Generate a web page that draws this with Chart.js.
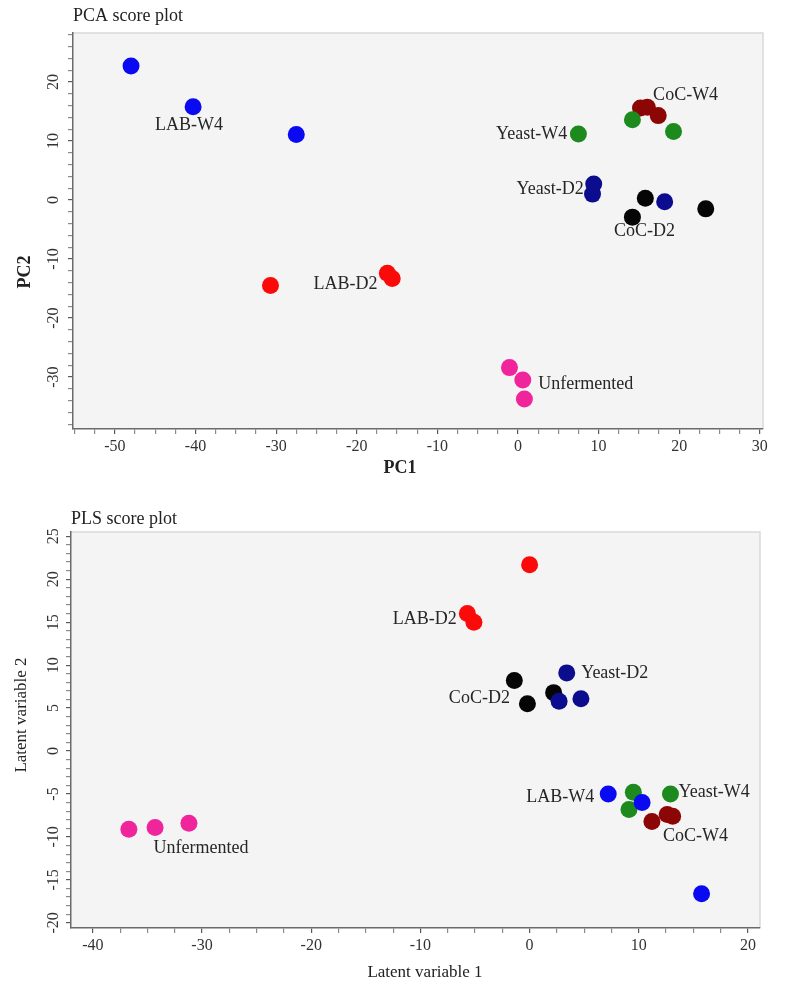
<!DOCTYPE html>
<html><head><meta charset="utf-8">
<script src="https://cdn.jsdelivr.net/npm/chart.js@4.4.1/dist/chart.umd.min.js"></script>
<style>
html,body{margin:0;padding:0;background:#fff}
body{width:791px;height:999px;overflow:hidden;position:relative}
canvas{position:absolute;left:0}
</style></head><body>
<canvas id="pca" width="791" height="495" style="top:0;width:791px;height:495px"></canvas>
<canvas id="pls" width="791" height="504" style="top:495px;width:791px;height:504px"></canvas>
<script>
// ---- data ----
const groups = ['Unfermented', 'LAB-D2', 'LAB-W4', 'Yeast-D2', 'Yeast-W4', 'CoC-D2', 'CoC-W4'];
const groupColors = ['#f0259b', '#fb0a0a', '#0a0af2', '#0c0c8e', '#1d8a1d', '#050505', '#8c0606'];

// PCA scores (PC1, PC2) per group
const pcaPC1 = [
  [-1.05, 0.6, 0.8],
  [-30.7, -16.2, -15.6],
  [-48.0, -40.3, -27.5],
  [9.4, 9.25, 18.2],
  [7.5, 14.2, 19.3],
  [15.8, 14.2, 23.3],
  [15.2, 16.05, 17.4]
];
const pcaPC2 = [
  [-28.4, -30.5, -33.7],
  [-14.5, -12.4, -13.3],
  [22.7, 15.8, 11.1],
  [2.7, 1.0, -0.3],
  [11.2, 13.6, 11.6],
  [0.3, -2.9, -1.5],
  [15.6, 15.7, 14.3]
];
// PCA group label anchors (data units)
const pcaLabelX = [8.4, -21.4, -40.8, 4.0, 1.7, 15.7, 20.8];
const pcaLabelY = [-31.3, -14.3, 12.6, 1.9, 11.2, -5.3, 17.7];

// PLS scores (LV1, LV2) per group
const plsLV1 = [
  [-36.7, -34.3, -31.2],
  [0.0, -5.7, -5.1],
  [7.2, 10.3, 15.75],
  [3.4, 2.7, 4.7],
  [9.5, 9.1, 12.9],
  [-1.4, -0.2, 2.2],
  [11.2, 12.6, 13.1]
];
const plsLV2 = [
  [-9.1, -8.9, -8.4],
  [21.7, 16.0, 15.0],
  [-5.0, -6.0, -16.6],
  [9.1, 5.8, 6.1],
  [-4.8, -6.8, -5.0],
  [8.2, 5.5, 6.8],
  [-8.2, -7.4, -7.6]
];
const plsLabelX = [-30.1, -9.6, 2.8, 7.8, 16.9, -4.6, 15.2];
const plsLabelY = [-11.3, 15.3, -5.4, 9.1, -4.8, 6.2, -9.9];

// axis ticks
const pcaXTicks = [-50, -40, -30, -20, -10, 0, 10, 20, 30];
const pcaYTicks = [-30, -20, -10, 0, 10, 20];
const plsXTicks = [-40, -30, -20, -10, 0, 10, 20];
const plsYTicks = [-20, -15, -10, -5, 0, 5, 10, 15, 20, 25];

// ---- rendering ----
const SERIF = "'Liberation Serif', 'DejaVu Serif', serif";

const decor = {
  id: 'decor',
  beforeDraw(chart, args, o) {
    const {ctx, chartArea: a} = chart;
    ctx.save();
    ctx.fillStyle = '#f4f4f4';
    ctx.fillRect(a.left, a.top, a.right - a.left, a.bottom - a.top);
    ctx.strokeStyle = '#d9d9d9';
    ctx.lineWidth = 1.5;
    ctx.beginPath();
    ctx.moveTo(a.left, a.top);
    ctx.lineTo(a.right, a.top);
    ctx.lineTo(a.right, a.bottom);
    ctx.stroke();
    ctx.restore();
  },
  afterDatasetsDraw(chart, args, o) {
    const {ctx, chartArea: a} = chart;
    const xs = chart.scales.x, ys = chart.scales.y;
    ctx.save();
    ctx.fillStyle = '#262626';
    ctx.textAlign = 'center';
    ctx.textBaseline = 'middle';
    ctx.font = '18px ' + SERIF;
    groups.forEach((g, i) => {
      ctx.fillText(g, xs.getPixelForValue(o.lx[i]), ys.getPixelForValue(o.ly[i]));
    });
    // chart title
    ctx.textAlign = 'left';
    ctx.font = '18px ' + SERIF;
    ctx.fillStyle = '#222';
    ctx.fillText(o.title, a.left, o.titleY);
    // x axis title
    ctx.textAlign = 'center';
    ctx.font = (o.bold ? 'bold ' : '') + o.axisSize + 'px ' + SERIF;
    ctx.fillText(o.xTitle, o.xTitlePos[0], o.xTitlePos[1]);
    // y axis title
    ctx.translate(o.yTitlePos[0], o.yTitlePos[1]);
    ctx.rotate(-Math.PI / 2);
    ctx.fillText(o.yTitle, 0, 0);
    ctx.restore();
  }
};

function makeChart(id, X, Y, lx, ly, cfg) {
  const datasets = groups.map((g, i) => ({
    label: g,
    data: X[i].map((v, k) => ({x: v, y: Y[i][k]})),
    backgroundColor: groupColors[i],
    borderColor: groupColors[i],
    borderWidth: 0,
    pointRadius: 8.5,
    pointHoverRadius: 8.5
  }));
  const tickFont = {family: SERIF, size: 16};
  const tickColor = ctx => (ctx.tick && ctx.tick.label !== '' ? '#5a5a5a' : '#8a8a8a');
  return new Chart(document.getElementById(id), {
    type: 'scatter',
    data: {datasets},
    options: {
      responsive: false,
      animation: false,
      events: [],
      layout: {padding: cfg.padding},
      plugins: {
        legend: {display: false},
        tooltip: {enabled: false},
        decor: {lx, ly, title: cfg.title, titleY: cfg.titleY, xTitle: cfg.xTitle, yTitle: cfg.yTitle,
                xTitlePos: cfg.xTitlePos, yTitlePos: cfg.yTitlePos, bold: cfg.bold, axisSize: cfg.axisSize}
      },
      scales: {
        x: {
          type: 'linear', position: 'bottom',
          min: cfg.xMin, max: cfg.xMax,
          afterFit: s => { s.height = cfg.xAxisH; },
          border: {color: '#6a6a6a', width: 1.5},
          grid: {drawOnChartArea: false, drawTicks: true, tickLength: 5, color: tickColor, lineWidth: 1.2},
          ticks: {
            stepSize: cfg.xStep, autoSkip: false, includeBounds: false, maxRotation: 0, minRotation: 0,
            padding: 3, font: tickFont, color: '#333',
            callback: v => (cfg.xTicks.some(t => Math.abs(t - v) < 1e-6) ? String(Math.round(v)) : '')
          }
        },
        y: {
          type: 'linear', position: 'left',
          min: cfg.yMin, max: cfg.yMax,
          afterFit: s => { s.width = cfg.yAxisW; },
          border: {color: '#6a6a6a', width: 1.5},
          grid: {drawOnChartArea: false, drawTicks: true, tickLength: 5, color: tickColor, lineWidth: 1.2},
          ticks: {
            stepSize: cfg.yStep, autoSkip: false, includeBounds: false, minRotation: 90, maxRotation: 90,
            crossAlign: 'center', padding: cfg.yPad, font: tickFont, color: '#333',
            callback: v => (cfg.yTicks.some(t => Math.abs(t - v) < 1e-6) ? String(Math.round(v)) : '')
          }
        }
      }
    },
    plugins: [decor]
  });
}

makeChart('pca', pcaPC1, pcaPC2, pcaLabelX, pcaLabelY, {
  padding: {left: 0, right: 28, top: 33, bottom: 0},
  xMin: -55.2, xMax: 30.4, yMin: -38.8, yMax: 28.3,
  xStep: 2.5, yStep: 2, xTicks: pcaXTicks, yTicks: pcaYTicks,
  xAxisH: 66, yAxisW: 73, yPad: 4,
  title: 'PCA score plot', titleY: 16,
  xTitle: 'PC1', yTitle: 'PC2', bold: true, axisSize: 18,
  xTitlePos: [400, 468], yTitlePos: [25, 272]
});

makeChart('pls', plsLV1, plsLV2, plsLabelX, plsLabelY, {
  padding: {left: 0, right: 31, top: 37, bottom: 0},
  xMin: -42.0, xMax: 21.1, yMin: -20.6, yMax: 25.5,
  xStep: 2.5, yStep: 1, xTicks: plsXTicks, yTicks: plsYTicks,
  xAxisH: 71, yAxisW: 71, yPad: 2,
  title: 'PLS score plot', titleY: 24,
  xTitle: 'Latent variable 1', yTitle: 'Latent variable 2', bold: false, axisSize: 17,
  xTitlePos: [425, 478], yTitlePos: [22, 220]
});
</script>
</body></html>
